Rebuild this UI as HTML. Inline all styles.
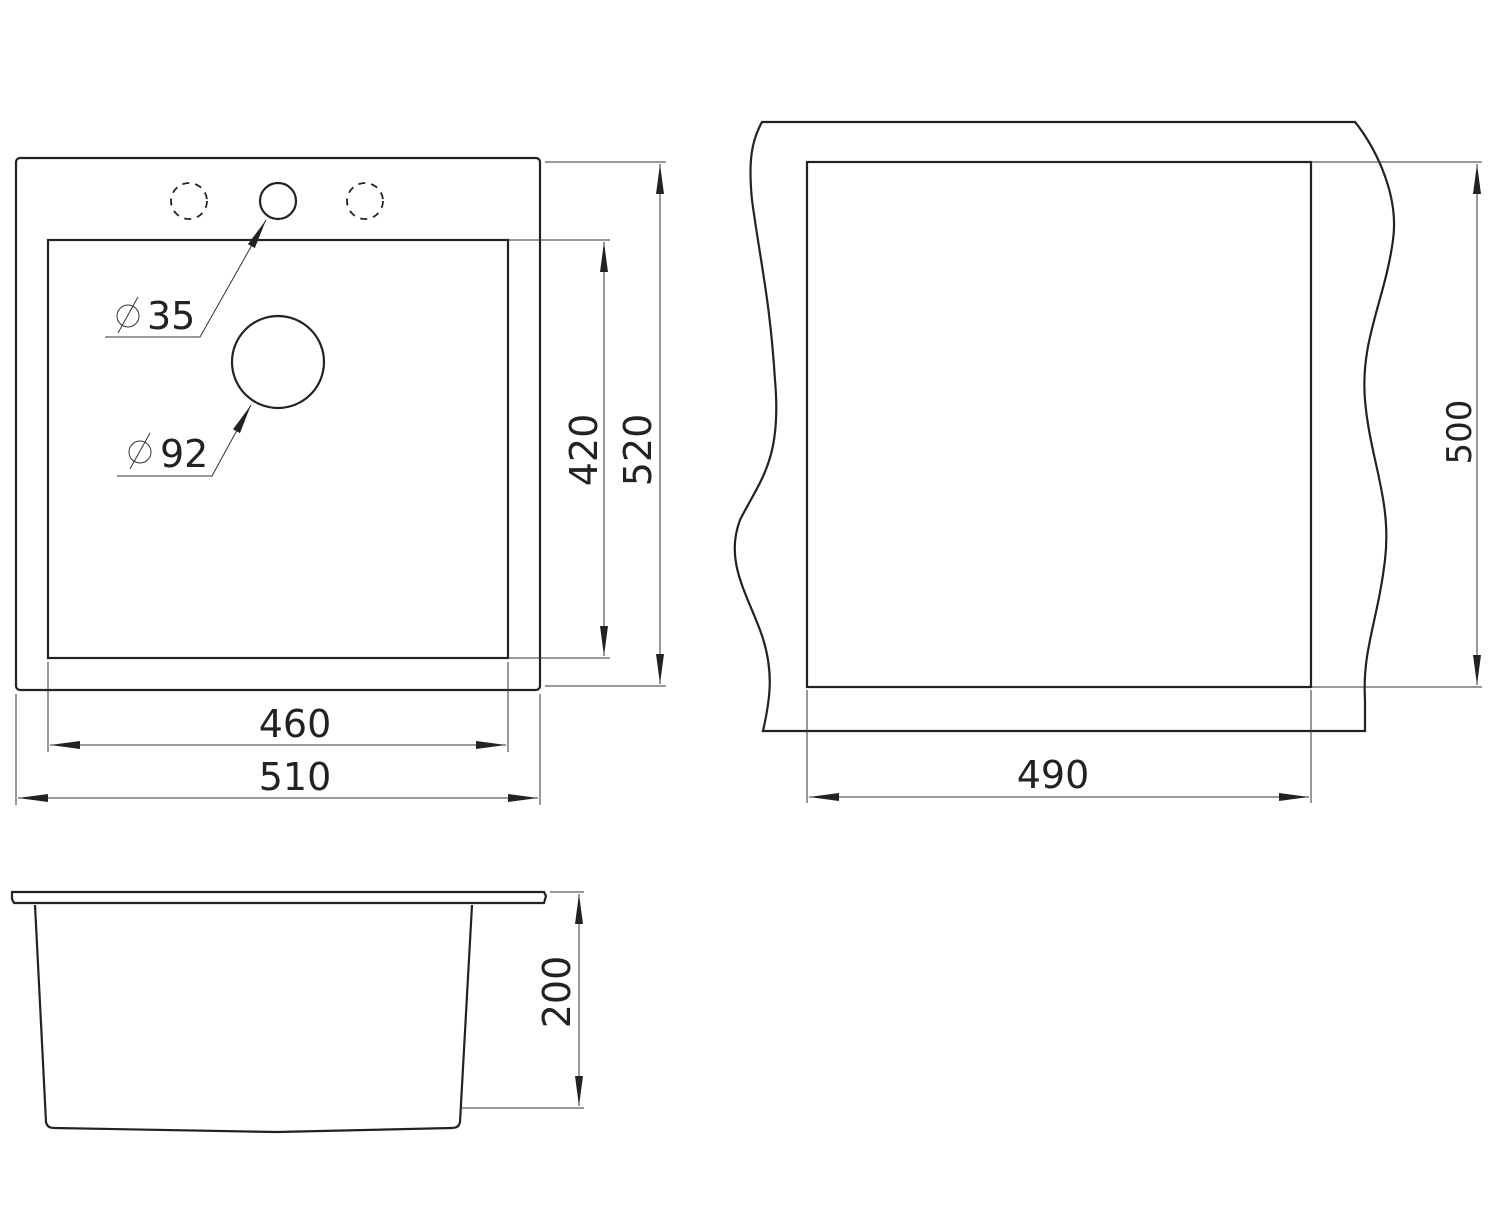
<!DOCTYPE html>
<html><head><style>body{margin:0;background:#fff}svg{display:block}text{font-family:"DejaVu Sans","Liberation Sans",sans-serif;fill:#222}</style></head><body>
<svg width="1500" height="1228" viewBox="0 0 1500 1228" xmlns="http://www.w3.org/2000/svg">
<defs>
<marker id="a" viewBox="0 0 30 8" refX="30" refY="4" markerWidth="30" markerHeight="8" markerUnits="userSpaceOnUse" orient="auto-start-reverse"><path d="M0,0 L30,4 L0,8 Z" fill="#222"/></marker>
</defs>
<g fill="none" stroke="#222" stroke-width="2.2">
<rect x="16" y="158" width="524" height="532" rx="4"/>
<rect x="48" y="240" width="460" height="418"/>
<circle cx="278" cy="201" r="18"/>
<circle cx="189" cy="201" r="18" stroke-dasharray="7,6" stroke-width="1.8"/>
<circle cx="365" cy="201" r="18" stroke-dasharray="7,6" stroke-width="1.8"/>
<circle cx="278" cy="362" r="46"/>
<rect x="807" y="162" width="504" height="525"/>
<path d="M762,122 L1355,122 C1370,140 1400,190 1393,240 C1385,300 1360,340 1365,400 C1370,460 1392,500 1385,560 C1378,620 1362,650 1365,700 L1365,731 L763,731 C770,700 775,670 760,630 C745,590 725,560 740,520 C760,480 782,460 775,380 C770,300 760,260 752,200 C748,160 752,140 762,122 Z"/>
<path d="M12,892 L544,892 L546,896 L544,903 L14,903 L12,899 Z"/>
<path d="M35,905 L46,1122 Q47,1128 54,1128 L277,1132 L452,1128 Q459,1128 460,1122 L472,905"/>
</g>
<g fill="none" stroke="#333" stroke-width="1">
<line x1="508" y1="240" x2="610" y2="240"/><line x1="508" y1="658" x2="610" y2="658"/>
<line x1="545" y1="162" x2="666" y2="162"/><line x1="545" y1="686" x2="666" y2="686"/>
<line x1="48" y1="662" x2="48" y2="752"/><line x1="508" y1="662" x2="508" y2="752"/>
<line x1="16" y1="694" x2="16" y2="805"/><line x1="540" y1="694" x2="540" y2="805"/>
<line x1="1311" y1="162" x2="1482" y2="162"/><line x1="1311" y1="687" x2="1482" y2="687"/>
<line x1="807" y1="690" x2="807" y2="803"/><line x1="1311" y1="690" x2="1311" y2="803"/>
<line x1="550" y1="892" x2="584" y2="892"/><line x1="462" y1="1108" x2="584" y2="1108"/>
<line x1="604" y1="242" x2="604" y2="656" marker-start="url(#a)" marker-end="url(#a)"/>
<line x1="660" y1="164" x2="660" y2="684" marker-start="url(#a)" marker-end="url(#a)"/>
<line x1="50" y1="745" x2="506" y2="745" marker-start="url(#a)" marker-end="url(#a)"/>
<line x1="18" y1="798" x2="538" y2="798" marker-start="url(#a)" marker-end="url(#a)"/>
<line x1="1477" y1="164" x2="1477" y2="685" marker-start="url(#a)" marker-end="url(#a)"/>
<line x1="809" y1="797" x2="1309" y2="797" marker-start="url(#a)" marker-end="url(#a)"/>
<line x1="579" y1="894" x2="579" y2="1106" marker-start="url(#a)" marker-end="url(#a)"/>
<polyline points="105,337 200,337 252,245" />
<line x1="252" y1="245" x2="266" y2="220" marker-end="url(#a)"/>
<polyline points="117,476 212,476 236,432"/>
<line x1="236" y1="432" x2="251" y2="405" marker-end="url(#a)"/>
<circle cx="128" cy="316" r="11"/><line x1="118" y1="333" x2="138" y2="297"/>
<circle cx="140" cy="452" r="11"/><line x1="130" y1="469" x2="150" y2="433"/>
</g>
<g font-size="38">
<text x="147" y="329">35</text>
<text x="160" y="467">92</text>
<text x="295" y="737" text-anchor="middle">460</text>
<text x="295" y="790" text-anchor="middle">510</text>
<text x="1053" y="788" text-anchor="middle">490</text>
<text transform="translate(597,450) rotate(-90)" text-anchor="middle">420</text>
<text transform="translate(651,450) rotate(-90)" text-anchor="middle">520</text>
<text transform="translate(1471,432) rotate(-90)" text-anchor="middle" font-size="34">500</text>
<text transform="translate(570,992) rotate(-90)" text-anchor="middle">200</text>
</g>
</svg>
</body></html>
